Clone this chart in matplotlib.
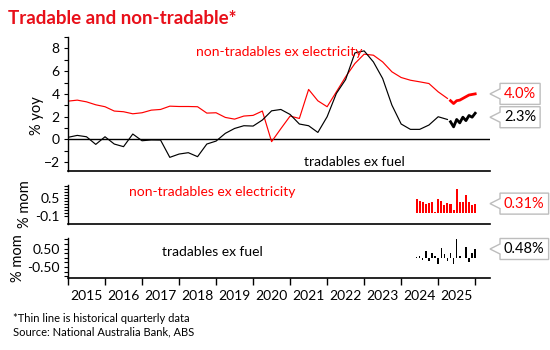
import matplotlib
matplotlib.use('Agg')
import matplotlib.pyplot as plt
import numpy as np
import pandas as pd
from matplotlib.patches import Polygon
from matplotlib.transforms import IdentityTransform

plt.rcParams['font.family'] = ['Lato', 'DejaVu Sans']

# ---------------- data ----------------
quarters = pd.period_range('2014Q4', '2025Q1', freq='Q')
tradables_q = [0.18, 0.35, 0.23, -0.44, 0.23, -0.41, -0.64, 0.47, -0.12, -0.05,
               -0.06, -1.58, -1.29, -1.17, -1.52, -0.41, -0.15, 0.53, 0.96, 1.20,
               1.17, 1.70, 2.51, 2.63, 2.19, 1.35, 1.20, 0.61, 1.99, 4.04,
               5.26, 7.60, 7.78, 6.81, 5.35, 3.01, 1.35, 0.88, 0.88, 1.26,
               1.99, 1.75]
nontradables_q = [3.36, 3.45, 3.30, 3.04, 2.87, 2.49, 2.43, 2.25, 2.34, 2.57,
                  2.63, 2.92, 2.89, 2.89, 2.87, 2.31, 2.34, 1.93, 1.78, 2.05,
                  2.11, 2.49, -0.20, 0.94, 2.05, 1.84, 4.39, 3.39, 2.87, 4.18,
                  5.50, 6.67, 7.49, 7.40, 6.81, 5.94, 5.44, 5.20, 5.06, 4.91,
                  4.18, 3.60]

months_yoy = pd.period_range('2025-04', '2025-12', freq='M')
tradables_m_yoy = [1.55, 1.10, 1.75, 1.45, 1.95, 1.65, 2.10, 1.95, 2.30]
nontradables_m_yoy = [3.40, 3.15, 3.40, 3.45, 3.60, 3.75, 3.90, 3.95, 4.00]

months_mom = pd.period_range('2024-05', '2025-12', freq='M')
nontradables_mom = [0.45, 0.40, 0.38, 0.30, 0.32, 0.35, 0.02, 0.46, 0.40, 0.28,
                    0.32, 0.30, 0.08, 0.79, 0.37, 0.37, 0.60, 0.37, 0.28, 0.31]
tradables_mom = [0.07, 0.12, -0.14, 0.36, -0.18, 0.25, 0.10, -0.32, 0.54, 0.21,
                 -0.15, 0.25, -0.34, 1.02, 0.12, 0.00, 0.60, -0.21, 0.27, 0.48]

years = list(range(2015, 2026))

label_nt = 'non-tradables ex electricity'
label_t = 'tradables ex fuel'
title = 'Tradable and non-tradable*'
footnote = '*Thin line is historical quarterly data'
source = 'Source: National Australia Bank, ABS'

# ---------------- helpers ----------------
def q_to_x(p):
    return p.year + p.quarter * 0.25

def m_to_x(p):
    return p.year + p.month / 12.0

xq = [q_to_x(p) for p in quarters]
xm_yoy = [m_to_x(p) for p in months_yoy]
xm_mom = [m_to_x(p) for p in months_mom]

RED = '#ff0000'
TITLE_RED = '#e8101a'
W, H = 550, 350

fig = plt.figure(figsize=(W / 100, H / 100), dpi=100)

def add_ax(l, t, r, b):
    return fig.add_axes([l / W, 1 - b / H, (r - l) / W, (b - t) / H])

ax1 = add_ax(68, 37, 490, 171)
ax2 = add_ax(68, 185, 490, 224)
ax3 = add_ax(68, 238, 490, 278)

XMIN, XMAX = 2015.0, 2026.4

for ax in (ax1, ax2, ax3):
    ax.set_xlim(XMIN, XMAX)
    for s in ('top', 'right'):
        ax.spines[s].set_visible(False)
    ax.spines['left'].set_linewidth(1.0)
    ax.spines['bottom'].set_linewidth(1.2)
    ax.tick_params(axis='y', which='both', direction='out', length=3, width=0.8,
                   labelsize=10, pad=3)
    ax.patch.set_alpha(0)

for ax in (ax1, ax2):
    ax.tick_params(axis='x', which='both', bottom=False, labelbottom=False)

# ---- panel 1: yoy lines ----
ax1.axhline(0, color='black', lw=1.0)
ax1.plot(xq, nontradables_q, color=RED, lw=0.85)
ax1.plot(xq, tradables_q, color='black', lw=0.85)
ax1.plot(xm_yoy, nontradables_m_yoy, color=RED, lw=2.0)
ax1.plot(xm_yoy, tradables_m_yoy, color='black', lw=2.0)
ax1.set_ylim(-2.78, 9.0)
ax1.set_yticks(range(-2, 9, 2))
ax1.set_yticks(range(-2, 10), minor=True)
ax1.set_ylabel('% yoy', fontsize=10.5)
ax1.yaxis.set_label_coords(-0.057, 0.41)
ax1.text(2018.45, 7.66, label_nt, color=RED, fontsize=10, va='center', ha='left')
ax1.text(2021.38, -2.0, label_t, color='black', fontsize=10, va='center', ha='left')

# ---- panel 2: non-tradables mom bars ----
ax2.bar(xm_mom, nontradables_mom, width=0.055, color=RED, lw=0)
ax2.set_ylim(-0.38, 0.94)
ax2.set_yticks([-0.1, 0.5])
ax2.set_yticks(np.arange(-0.1, 0.95, 0.1), minor=True)
ax2.set_yticklabels(['-0.1', '0.5'])
ax2.set_ylabel('% mom', fontsize=10.5)
ax2.yaxis.set_label_coords(-0.085, 0.5)
ax2.text(2016.66, 0.70, label_nt, color=RED, fontsize=10, va='center', ha='left')

# ---- panel 3: tradables mom bars ----
ax3.bar(xm_mom, tradables_mom, width=0.04, color='black', lw=0)
ax3.set_ylim(-1.09, 1.075)
ax3.set_yticks([-0.5, 0.5])
ax3.set_yticks(np.arange(-1.0, 1.01, 0.25), minor=True)
ax3.set_yticklabels(['-0.50', '0.50'])
ax3.set_ylabel('% mom', fontsize=10.5)
ax3.yaxis.set_label_coords(-0.102, 0.5)
ax3.text(2017.55, 0.32, label_t, color='black', fontsize=10, va='center', ha='left')

ax3.set_xticks(years + [years[-1] + 1])
ax3.set_xticklabels([])
ax3.set_xticks([y + 0.5 for y in years], minor=True)
ax3.set_xticklabels([str(y) for y in years], minor=True)
ax3.tick_params(axis='x', which='major', direction='out', length=5, width=1.0)
ax3.tick_params(axis='x', which='minor', length=0, labelsize=10, pad=9)

# ---- callouts ----
renderer = fig.canvas.get_renderer()

def callout(ax, yval, text, color, dy=0.0):
    ypix = ax.transData.transform((XMIN, yval))[1] + dy
    L, tip, hh = 500, 490, 10.5
    t = fig.text(L + 4, ypix, text, color=color, fontsize=10.5, ha='left',
                 va='center', transform=IdentityTransform(), zorder=5)
    ext = t.get_window_extent(renderer)
    R = ext.x1 + 4
    pts = [(L, ypix + hh), (R, ypix + hh), (R, ypix - hh), (L, ypix - hh),
           (L, ypix - 5), (tip, ypix), (L, ypix + 5)]
    fig.add_artist(Polygon(pts, closed=True, facecolor='white', edgecolor='#bdbdbd',
                           lw=1.0, transform=IdentityTransform(), zorder=4))

callout(ax1, nontradables_m_yoy[-1], f'{nontradables_m_yoy[-1]:.1f}%', RED)
callout(ax1, tradables_m_yoy[-1], f'{tradables_m_yoy[-1]:.1f}%', 'black', dy=-4)
callout(ax2, nontradables_mom[-1], f'{nontradables_mom[-1]:.2f}%', RED)
callout(ax3, tradables_mom[-1], f'{tradables_mom[-1]:.2f}%', 'black')

# ---- titles & notes ----
fig.text(8 / W, 1 - 18 / H, title, color=TITLE_RED, fontsize=13.5, fontweight='bold',
         va='center', ha='left')
fig.text(13 / W, 1 - 318 / H, footnote, fontsize=8, va='center', ha='left')
fig.text(13 / W, 1 - 332 / H, source, fontsize=8, va='center', ha='left')

fig.savefig('out.png', dpi=100)
